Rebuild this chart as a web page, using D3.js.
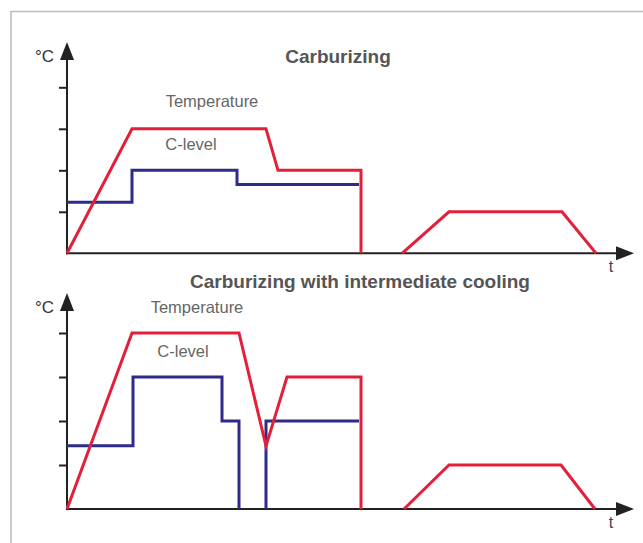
<!DOCTYPE html>
<html>
<head>
<meta charset="utf-8">
<script src="https://cdn.jsdelivr.net/npm/d3@7"></script>
<style>
  body { margin: 0; background: #fff; }
  svg { display: block; font-family: "Liberation Sans", Arial, sans-serif; }
</style>
</head>
<body>
<div id="chart"></div>
<script>
// time is in arbitrary units, levels in tick steps (0..4)
const tickLevels = [1, 2, 3, 4];

// Carburizing
const tempTop = [[0, 0], [65, 3], [199, 3], [211, 2], [294, 2], [294, 0]];
const tempTopCool = [[335, 0], [382, 1], [495, 1], [529, 0]];
const cTop = [[0, 1.23], [65, 1.23], [65, 2], [170, 2], [170, 1.66], [292, 1.66]];

// Carburizing with intermediate cooling
const tempBot = [[0, 0], [65, 4], [172, 4], [199, 1.43], [220, 3], [294, 3], [294, 0]];
const tempBotCool = [[337, 0], [382, 1], [494, 1], [528, 0]];
const cBotA = [[0, 1.44], [66, 1.44], [66, 3], [155, 3], [155, 2], [172, 2], [172, 0]];
const cBotB = [[199, 0], [199, 2], [292, 2]];

const width = 643, height = 543;
const RED = "#e41f3a", BLUE = "#2f2b8c", AXIS = "#222";

const svg = d3.select("#chart").append("svg")
  .attr("width", width)
  .attr("height", height);

// frame
svg.append("path")
  .attr("d", `M${width + 5},11.5 H11 V${height + 5}`)
  .attr("fill", "none")
  .attr("stroke", "#bdbdbd")
  .attr("stroke-width", 1.6);

const x = d3.scaleLinear().domain([0, 566]).range([67, 633]);

const panels = [
  {
    title: "Carburizing", titleX: 338, titleY: 63,
    y0: 253.3, step: 41.5, arrowTop: 42,
    tempLabel: [212, 107], cLabel: [191, 150],
    cLines: [cTop], tLines: [tempTop, tempTopCool]
  },
  {
    title: "Carburizing with intermediate cooling", titleX: 360, titleY: 288,
    y0: 509, step: 44, arrowTop: 293,
    tempLabel: [197, 312.5], cLabel: [183, 356.5],
    cLines: [cBotA, cBotB], tLines: [tempBot, tempBotCool]
  }
];

panels.forEach(p => {
  const y = d3.scaleLinear().domain([0, 4]).range([p.y0, p.y0 - 4 * p.step]);
  const g = svg.append("g");

  // y ticks
  g.append("g")
    .attr("transform", `translate(${x(0)},0)`)
    .call(d3.axisLeft(y).tickValues(tickLevels).tickSize(8).tickFormat(""))
    .call(a => a.select(".domain").remove())
    .call(a => a.selectAll("line").attr("stroke", AXIS).attr("stroke-width", 2));

  // axis lines
  g.append("line")
    .attr("x1", x(0)).attr("x2", x(0))
    .attr("y1", y(0) + 1).attr("y2", p.arrowTop + 12)
    .attr("stroke", AXIS).attr("stroke-width", 2);
  g.append("line")
    .attr("x1", x(0) - 1).attr("x2", 622)
    .attr("y1", y(0)).attr("y2", y(0))
    .attr("stroke", AXIS).attr("stroke-width", 2);

  // arrow heads
  const ax = x(0);
  g.append("path")
    .attr("d", `M${ax},${p.arrowTop} L${ax + 7},${p.arrowTop + 18} L${ax - 7},${p.arrowTop + 18} Z`)
    .attr("fill", AXIS);
  const ay = y(0);
  g.append("path")
    .attr("d", `M634,${ay} L616,${ay - 7} L616,${ay + 7} Z`)
    .attr("fill", AXIS);

  const line = d3.line().x(d => x(d[0])).y(d => y(d[1]));

  g.selectAll(".c-line")
    .data(p.cLines)
    .enter()
    .append("path")
    .attr("class", "c-line")
    .attr("d", line)
    .attr("fill", "none")
    .attr("stroke", BLUE)
    .attr("stroke-width", 3);

  g.selectAll(".t-line")
    .data(p.tLines)
    .enter()
    .append("path")
    .attr("class", "t-line")
    .attr("d", line)
    .attr("fill", "none")
    .attr("stroke", RED)
    .attr("stroke-width", 3);

  // texts
  g.append("text")
    .attr("x", p.titleX).attr("y", p.titleY)
    .attr("text-anchor", "middle")
    .attr("font-size", 19).attr("font-weight", "bold")
    .attr("fill", "#555")
    .text(p.title);

  g.append("text")
    .attr("x", p.tempLabel[0]).attr("y", p.tempLabel[1])
    .attr("text-anchor", "middle")
    .attr("font-size", 16.5).attr("fill", "#666")
    .text("Temperature");

  g.append("text")
    .attr("x", p.cLabel[0]).attr("y", p.cLabel[1])
    .attr("text-anchor", "middle")
    .attr("font-size", 16.5).attr("fill", "#666")
    .text("C-level");

  g.append("text")
    .attr("x", 35).attr("y", p.arrowTop + 20)
    .attr("font-size", 17).attr("fill", "#333")
    .text("°C");

  g.append("text")
    .attr("x", 611).attr("y", y(0) + 19)
    .attr("text-anchor", "middle")
    .attr("font-size", 16).attr("fill", "#444")
    .text("t");
});
</script>
</body>
</html>
